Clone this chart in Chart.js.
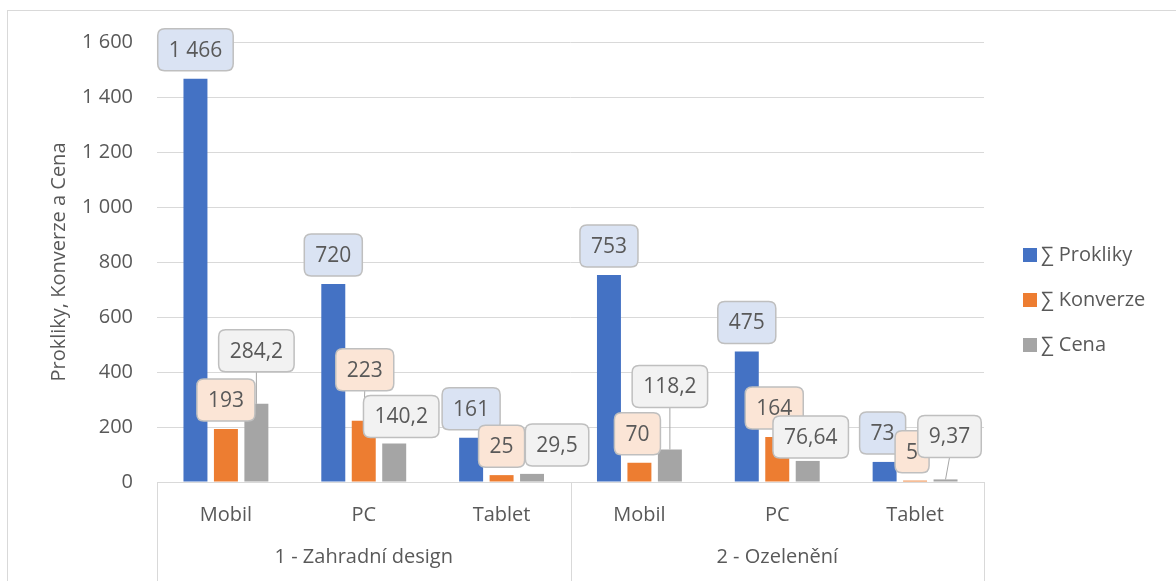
<!DOCTYPE html>
<html>
<head>
<meta charset="utf-8">
<script src="https://cdn.jsdelivr.net/npm/chart.js@4.4.1/dist/chart.umd.min.js"></script>
<style>
  html, body { margin: 0; padding: 0; background: #fff; }
  #wrap { width: 1176px; height: 581px; position: relative; }
</style>
</head>
<body>
<div id="wrap"><canvas id="c"></canvas></div>
<script>
// data
const categories = ['Mobil', 'PC', 'Tablet', 'Mobil', 'PC', 'Tablet'];
const groups = ['1 - Zahradní design', '2 - Ozelenění'];
const groupSizes = [3, 3];
const prokliky = [1466, 720, 161, 753, 475, 73];
const konverze = [193, 223, 25, 70, 164, 5];
const cena = [284.2, 140.2, 29.5, 118.2, 76.64, 9.37];
const seriesNames = ['∑ Prokliky', '∑ Konverze', '∑ Cena'];
const yMin = 0, yMax = 1600, yStep = 200;

const FONT = '"Open Sans", "DejaVu Sans", sans-serif';
const TXT = '#595959';
const LINE = '#D9D9D9';
const colors = ['#4472C4', '#ED7D31', '#A5A5A5'];
const labelFills = ['#DAE3F3', '#FBE5D6', '#F2F2F2'];

// callout nudges (px) so labels sit where Excel put them
const labelNudge = [
  [[0, 0], [0, 0], [0, 0], [0, 0], [0, 0], [-2, 0]],
  [[0, 0], [1, -22], [0, 0], [-2, 0], [-3, 0], [-3, 0]],
  [[0, -24], [7, 2], [25, 0], [0, -34], [3, 5], [4, -14]]
];

function fmt(v) {
  const parts = String(v).split('.');
  const int = parts[0].replace(/\B(?=(\d{3})+(?!\d))/g, ' ');
  return parts.length > 1 ? int + ',' + parts[1] : int;
}

function roundRect(ctx, x, y, w, h, r) {
  ctx.beginPath();
  ctx.moveTo(x + r, y);
  ctx.lineTo(x + w - r, y);
  ctx.quadraticCurveTo(x + w, y, x + w, y + r);
  ctx.lineTo(x + w, y + h - r);
  ctx.quadraticCurveTo(x + w, y + h, x + w - r, y + h);
  ctx.lineTo(x + r, y + h);
  ctx.quadraticCurveTo(x, y + h, x, y + h - r);
  ctx.lineTo(x, y + r);
  ctx.quadraticCurveTo(x, y, x + r, y);
  ctx.closePath();
}

const frame = {
  id: 'frame',
  beforeDraw(chart) {
    const ctx = chart.ctx;
    ctx.save();
    ctx.strokeStyle = LINE;
    ctx.lineWidth = 1;
    ctx.strokeRect(7.5, 10.5, chart.width + 50, chart.height + 50);
    ctx.restore();
  }
};

const callouts = {
  id: 'callouts',
  afterDatasetsDraw(chart) {
    const ctx = chart.ctx;
    ctx.save();
    ctx.font = '21px ' + FONT;
    ctx.textAlign = 'center';
    ctx.textBaseline = 'middle';
    chart.data.datasets.forEach((ds, i) => {
      const meta = chart.getDatasetMeta(i);
      meta.data.forEach((bar, j) => {
        const text = fmt(ds.data[j]);
        const w = ctx.measureText(text).width + 22;
        const h = 42;
        const nd = labelNudge[i][j];
        const cx = bar.x + nd[0];
        const cy = bar.y - 8 - h / 2 + nd[1];
        if (nd[1] <= -14) {
          ctx.strokeStyle = '#A6A6A6';
          ctx.lineWidth = 1;
          ctx.beginPath();
          ctx.moveTo(cx, cy + h / 2);
          ctx.lineTo(bar.x, bar.y);
          ctx.stroke();
        }
        roundRect(ctx, cx - w / 2, cy - h / 2, w, h, 7);
        ctx.fillStyle = labelFills[i];
        ctx.fill();
        ctx.strokeStyle = '#BFBFBF';
        ctx.lineWidth = 1.5;
        ctx.stroke();
        ctx.fillStyle = TXT;
        ctx.fillText(text, cx, cy + 1);
      });
    });
    ctx.restore();
  }
};

const groupAxis = {
  id: 'groupAxis',
  afterDraw(chart) {
    const ctx = chart.ctx;
    const x = chart.scales.x;
    const area = chart.chartArea;
    const step = (x.right - x.left) / categories.length;
    ctx.save();
    ctx.strokeStyle = LINE;
    ctx.lineWidth = 1;
    let idx = 0;
    const bounds = [x.left];
    groupSizes.forEach(n => { idx += n; bounds.push(x.left + idx * step); });
    bounds.forEach(b => {
      const bx = Math.round(b) + 0.5;
      ctx.beginPath();
      ctx.moveTo(bx, area.bottom);
      ctx.lineTo(bx, chart.height);
      ctx.stroke();
    });
    ctx.font = '20px ' + FONT;
    ctx.fillStyle = TXT;
    ctx.textAlign = 'center';
    ctx.textBaseline = 'middle';
    groups.forEach((g, k) => {
      ctx.fillText(g, (bounds[k] + bounds[k + 1]) / 2, area.bottom + 75);
    });

    // legend
    const lx = area.right + 39;
    const midY = (area.top + area.bottom) / 2 + 38;
    chart.data.datasets.forEach((ds, i) => {
      const y = midY + (i - 1) * 45;
      ctx.fillStyle = ds.backgroundColor;
      ctx.fillRect(lx, y - 7, 14, 14);
      ctx.fillStyle = TXT;
      ctx.textAlign = 'left';
      ctx.fillText(ds.label, lx + 18, y);
    });
    ctx.restore();
  }
};

new Chart(document.getElementById('c'), {
  type: 'bar',
  data: {
    labels: categories,
    datasets: [
      { label: seriesNames[0], data: prokliky, backgroundColor: colors[0] },
      { label: seriesNames[1], data: konverze, backgroundColor: colors[1] },
      { label: seriesNames[2], data: cena, backgroundColor: colors[2] }
    ]
  },
  options: {
    responsive: true,
    maintainAspectRatio: false,
    animation: false,
    events: [],
    layout: { padding: { top: 42, right: 192, bottom: 0, left: 0 } },
    datasets: { bar: { categoryPercentage: 0.663, barPercentage: 0.787 } },
    plugins: { legend: { display: false }, tooltip: { enabled: false } },
    scales: {
      x: {
        grid: { display: false },
        border: { display: true, color: LINE, width: 1 },
        ticks: { color: TXT, font: { family: FONT, size: 20 }, padding: 13, maxRotation: 0 },
        afterFit(s) { s.height = 99; }
      },
      y: {
        min: yMin, max: yMax,
        border: { display: false },
        grid: { color: LINE, lineWidth: 1, drawTicks: false },
        ticks: { stepSize: yStep, color: TXT, font: { family: FONT, size: 20 }, padding: 24, callback: v => fmt(v) },
        title: { display: true, text: 'Prokliky, Konverze a Cena', color: TXT, font: { family: FONT, size: 20 }, padding: { top: 47, bottom: 0 } },
        afterFit(s) { s.width = 157; }
      }
    }
  },
  plugins: [frame, callouts, groupAxis]
});
</script>
</body>
</html>
